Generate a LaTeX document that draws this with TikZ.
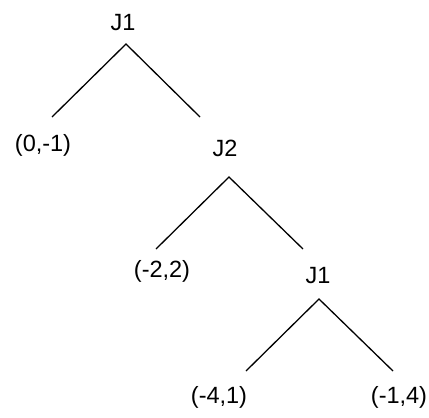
\documentclass[tikz,border=0pt]{standalone}
\usepackage{fontspec}
\setmainfont{Liberation Sans}
\begin{document}
\begin{tikzpicture}[x=1pt,y=-1pt,
  lbl/.style={anchor=base,inner sep=0pt,font=\fontsize{23.5}{28}\selectfont},
  edge/.style={line width=1.3pt,black}]
\useasboundingbox (0,0) rectangle (429,418);
% labels
\node[lbl] (r) at (123,30) {J1};
\node[lbl] (l1) at (43,151) {(0,-1)};
\node[lbl] (j2) at (225,156) {J2};
\node[lbl] (l2) at (162,277) {(-2,2)};
\node[lbl] (j1b) at (318,283) {J1};
\node[lbl] (l3) at (219,403) {(-4,1)};
\node[lbl] (l4) at (399,403) {(-1,4)};
% connector end points
\coordinate (rA) at (126,44);
\coordinate (l1E) at (52,117);
\coordinate (j2E) at (200,117);
\coordinate (j2A) at (229,177);
\coordinate (l2E) at (156,249);
\coordinate (j1bE) at (303,249);
\coordinate (j1bA) at (319,299);
\coordinate (l3E) at (246,371);
\coordinate (l4E) at (393,371);
% connectors
\draw[edge] (l1E) -- (rA) -- (j2E);
\draw[edge] (l2E) -- (j2A) -- (j1bE);
\draw[edge] (l3E) -- (j1bA) -- (l4E);
\end{tikzpicture}
\end{document}
